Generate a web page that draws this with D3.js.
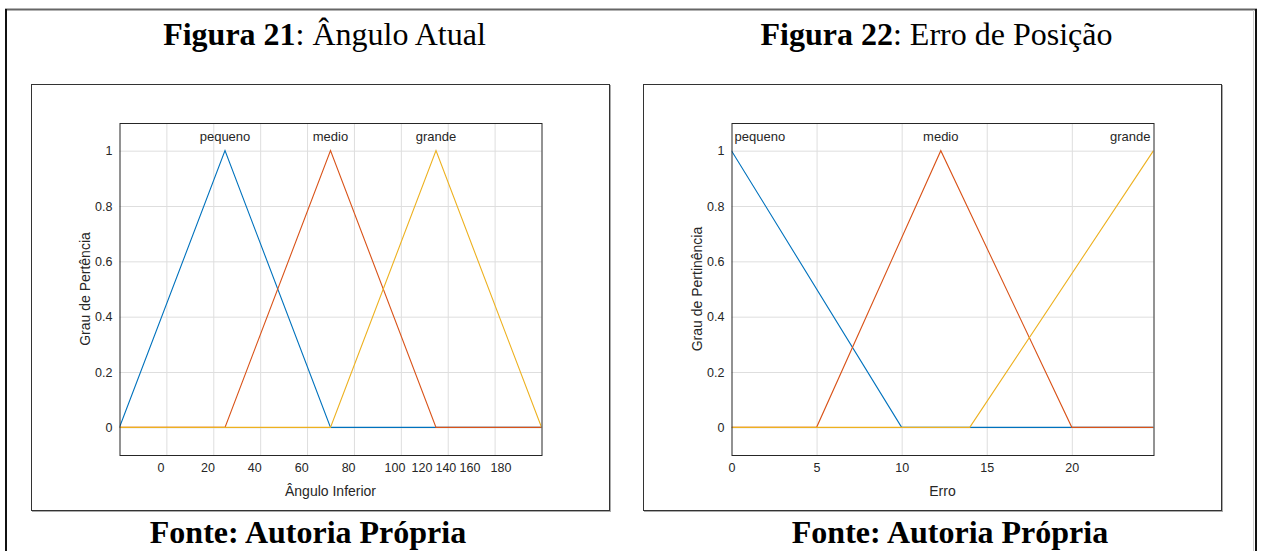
<!DOCTYPE html>
<html>
<head>
<meta charset="utf-8">
<script src="https://cdn.jsdelivr.net/npm/d3@7"></script>
<style>
  body { margin: 0; background: #fff; }
  .title { font-family: "Liberation Serif", "Times New Roman", serif; font-size: 32px; fill: #000; }
  .fonte { font-family: "Liberation Serif", "Times New Roman", serif; font-size: 32px; font-weight: bold; fill: #000; }
  .ax { font-family: "Liberation Sans", Arial, sans-serif; font-size: 12.5px; fill: #262626; }
  .mfn { font-family: "Liberation Sans", Arial, sans-serif; font-size: 13px; fill: #262626; }
  .axt { font-family: "Liberation Sans", Arial, sans-serif; font-size: 14px; fill: #262626; }
  .grid line { stroke: #dedede; stroke-width: 1; }
</style>
</head>
<body>
<svg id="chart"></svg>
<script>
const W = 1261, H = 551;

// Figura 21: Ângulo Atual
const angleDomain = [0, 180];
const angleGrid = [20, 40, 60, 80, 100, 120, 140, 160];
const angleTickLabels = ['0', '20', '40', '60', '80', '100', '120', '140', '160', '180'];
// where the labels sit in the picture (data units), the export shifted them
const angleTickPos = [17.5, 37.5, 57.5, 77.5, 97.5, 117.3, 128.8, 139, 149.3, 162.5];
const angleNames = ['pequeno', 'medio', 'grande'];
const anglePequeno = [[0, 0], [45, 1], [90, 0], [180, 0]];
const angleMedio = [[0, 0], [45, 0], [90, 1], [135, 0], [180, 0]];
const angleGrande = [[0, 0], [90, 0], [135, 1], [180, 0]];
const angleLabelX = [45, 90, 135];

// Figura 22: Erro de Posição
const erroDomain = [0, 24.8];
const erroTicks = [0, 5, 10, 15, 20];
const erroNames = ['pequeno', 'medio', 'grande'];
const erroPequeno = [[0, 1], [10, 0], [24.8, 0]];
const erroMedio = [[0, 0], [5, 0], [12.3, 1], [20, 0], [24.8, 0]];
const erroGrande = [[0, 0], [14, 0], [24.8, 1]];
const erroLabelX = [0, 12.3, 24.8];

const yTicks = [0, 0.2, 0.4, 0.6, 0.8, 1];
const colors = ['#0072BD', '#D95319', '#EDB120'];

const svg = d3.select('#chart').attr('width', W).attr('height', H);

// page frame
svg.append('line').attr('x1', 5).attr('x2', 1257).attr('y1', 9.5).attr('y2', 9.5)
    .attr('stroke', '#666').attr('stroke-width', 2);
svg.append('line').attr('x1', 6).attr('x2', 6).attr('y1', 9).attr('y2', H)
    .attr('stroke', '#111').attr('stroke-width', 2);
svg.append('line').attr('x1', 1256).attr('x2', 1256).attr('y1', 9).attr('y2', H)
    .attr('stroke', '#111').attr('stroke-width', 2);
svg.append('line').attr('x1', 1253.5).attr('x2', 1253.5).attr('y1', 10).attr('y2', H)
    .attr('stroke', '#ccc').attr('stroke-width', 1);

function panel(o) {
    const g = svg.append('g');
    // figure frame with shadow
    g.append('rect').attr('x', o.fx + 1).attr('y', o.fy + 1).attr('width', 578).attr('height', 426)
        .attr('fill', 'none').attr('stroke', '#aaa');
    g.append('rect').attr('x', o.fx).attr('y', o.fy).attr('width', 578).attr('height', 426)
        .attr('fill', '#fff').attr('stroke', '#333');

    const left = o.fx + 88, top = 123, pw = 422, ph = 332;
    const x = d3.scaleLinear().domain(o.domain).range([left, left + pw]);
    const y = d3.scaleLinear().domain([-0.1, 1.1]).range([top + ph, top]);

    // grid
    g.append('g').attr('class', 'grid')
        .attr('transform', `translate(0,${top})`)
        .call(d3.axisBottom(x).tickValues(o.grid).tickSize(ph).tickFormat(''))
        .call(s => s.select('.domain').remove());
    g.append('g').attr('class', 'grid')
        .attr('transform', `translate(${left},0)`)
        .call(d3.axisRight(y).tickValues(yTicks).tickSize(pw).tickFormat(''))
        .call(s => s.select('.domain').remove());

    // y tick labels
    const ya = g.append('g').attr('transform', `translate(${left},0)`)
        .call(d3.axisLeft(y).tickValues(yTicks).tickSize(0).tickPadding(7).tickFormat(d3.format('')));
    ya.select('.domain').remove();
    ya.selectAll('text').attr('class', 'ax').attr('font-family', null).attr('font-size', null);

    // x tick labels
    const xa = g.append('g').attr('transform', `translate(0,${top + ph})`)
        .call(d3.axisBottom(x).tickValues(o.tickPos).tickSize(0).tickPadding(8)
            .tickFormat((d, i) => o.tickLabels[i]));
    xa.select('.domain').remove();
    xa.selectAll('text').attr('class', 'ax').attr('font-family', null).attr('font-size', null);

    // lines
    const line = d3.line().x(d => x(d[0])).y(d => y(d[1]));
    const clip = 'clip' + o.id;
    g.append('clipPath').attr('id', clip).append('rect')
        .attr('x', left).attr('y', top).attr('width', pw).attr('height', ph);
    g.append('g').attr('clip-path', `url(#${clip})`)
        .selectAll('path').data(o.series).join('path')
        .attr('d', line).attr('fill', 'none')
        .attr('stroke', (d, i) => colors[i]).attr('stroke-width', 1.1);

    // mf names
    g.selectAll('text.mf').data(o.names).join('text')
        .attr('class', 'mfn mf')
        .attr('x', (d, i) => x(o.labelX[i]) + (o.anchors[i] === 'start' ? 3 : o.anchors[i] === 'end' ? -3 : 0))
        .attr('y', y(1.05) + 4)
        .attr('text-anchor', (d, i) => o.anchors[i])
        .text(d => d);

    // box
    g.append('rect').attr('x', left + 0.5).attr('y', top + 0.5).attr('width', pw).attr('height', ph)
        .attr('fill', 'none').attr('stroke', '#262626');

    // axis titles
    g.append('text').attr('class', 'axt').attr('text-anchor', 'middle')
        .attr('x', left + pw / 2).attr('y', top + ph + 41).text(o.xLabel);
    g.append('text').attr('class', 'axt').attr('text-anchor', 'middle')
        .attr('transform', `translate(${left - 30},${y(0.5)}) rotate(-90)`).text(o.yLabel);

    // figure caption and source
    const t = svg.append('text').attr('class', 'title').attr('text-anchor', 'middle')
        .attr('x', o.fx + 293).attr('y', 45);
    t.append('tspan').attr('font-weight', 'bold').text(o.fig);
    t.append('tspan').text(o.caption);
    svg.append('text').attr('class', 'fonte').attr('text-anchor', 'middle')
        .attr('x', o.fonteX).attr('y', 543).text('Fonte: Autoria Própria');
}

panel({
    id: 'a', fx: 31.5, fy: 84.5, fonteX: 308,
    domain: angleDomain, grid: angleGrid,
    tickPos: angleTickPos, tickLabels: angleTickLabels,
    series: [anglePequeno, angleMedio, angleGrande],
    names: angleNames, labelX: angleLabelX, anchors: ['middle', 'middle', 'middle'],
    xLabel: 'Ângulo Inferior', yLabel: 'Grau de Pertência',
    fig: 'Figura 21', caption: ': Ângulo Atual'
});

panel({
    id: 'b', fx: 643.5, fy: 84.5, fonteX: 950,
    domain: erroDomain, grid: [5, 10, 15, 20],
    tickPos: erroTicks, tickLabels: erroTicks.map(String),
    series: [erroPequeno, erroMedio, erroGrande],
    names: erroNames, labelX: erroLabelX, anchors: ['start', 'middle', 'end'],
    xLabel: 'Erro', yLabel: 'Grau de Pertinência',
    fig: 'Figura 22', caption: ': Erro de Posição'
});
</script>
</body>
</html>
